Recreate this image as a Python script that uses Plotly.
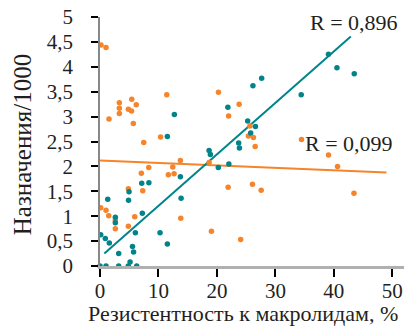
import plotly.graph_objects as go

# Teal series (high correlation)
teal_x = [0, 1.03, 3.2, 4.83, 6.28, 5.14, 3.2, 0.12, 0.91, 1.59, 5.56, 5.74, 6.05, 10.27, 11.52,
          1.32, 2.62, 2.62, 4.88, 4.97, 7.24, 7.14, 8.36, 13.75, 13.87, 11.52, 12.72, 18.66, 18.88,
          20.24, 22.04, 21.87, 23.72, 23.85, 25.26, 25.77, 26.59, 26.16, 27.65, 34.42, 39.08, 40.53, 43.49]
teal_y = [0, 0, 0, 0, 0, 0.08, 0.25, 0.63, 0.55, 0.46, 0.39, 0.28, 0.67, 0.67, 0.44,
          1.34, 0.98, 0.87, 1.32, 1.49, 1.06, 1.66, 1.67, 1.79, 1.36, 2.60, 3.04, 2.32, 2.24,
          1.98, 2.05, 3.19, 2.47, 2.37, 2.91, 2.67, 2.80, 3.62, 3.77, 3.44, 4.25, 3.98, 3.86]

# Orange series (low correlation)
orange_x = [0.17, 1.03, 1.54, 3.31, 3.31, 3.31, 5.43, 4.85, 5.39, 6.2, 5.7, 11.42, 7.48, 10.36,
            8.34, 7.07, 12.45, 11.69, 12.67, 20.26, 23.8, 22.0, 25.65, 25.38, 26.25, 26.54, 13.75,
            18.66, 7.31, 21.92, 26.08, 27.57, 5.94, 13.82, 19.06, 24.06, 34.47, 39.09, 40.63, 43.44,
            4.85, 0.12, 1.03, 1.49, 2.62, 2.62, 4.85]
orange_y = [4.44, 4.39, 2.95, 3.28, 3.17, 3.06, 3.35, 3.15, 3.11, 3.24, 2.86, 3.44, 2.48, 2.59,
            1.98, 1.86, 1.99, 1.83, 1.85, 3.49, 3.25, 3.01, 2.81, 2.61, 2.58, 2.40, 2.12,
            2.08, 1.51, 1.58, 1.64, 1.52, 0.99, 0.96, 0.70, 0.53, 2.54, 2.23, 2.00, 1.46,
            1.55, 1.17, 1.12, 1.01, 0.92, 0.75, 0.80]

# Trend lines
teal_line_x = [0.74, 42.9]
teal_line_y = [0.25, 4.61]
orange_line_x = [0, 49.0]
orange_line_y = [2.12, 1.88]

x_ticks = [0, 10, 20, 30, 40, 50]
y_ticks = [0, 0.5, 1, 1.5, 2, 2.5, 3, 3.5, 4, 4.5, 5]
y_tick_labels = ["0", "0,5", "1", "1,5", "2", "2,5", "3", "3,5", "4", "4,5", "5"]

labels = {"teal": "R = 0,896", "orange": "R = 0,099"}
x_title = "Резистентность к макролидам, %"
y_title = "Назначения/1000"

TEAL = "#00848a"
ORANGE = "#f5842a"
FONT = "Liberation Serif"
TXT = "#231f20"

W, H = 404, 328
L, T, R, B = 100, 17, 0, 62

fig = go.Figure()
fig.add_trace(go.Scatter(x=orange_line_x, y=orange_line_y, mode="lines",
                         line=dict(color=ORANGE, width=2), cliponaxis=False, hoverinfo="skip"))
fig.add_trace(go.Scatter(x=teal_line_x, y=teal_line_y, mode="lines",
                         line=dict(color=TEAL, width=2), cliponaxis=False, hoverinfo="skip"))
fig.add_trace(go.Scatter(x=orange_x, y=orange_y, mode="markers",
                         marker=dict(color=ORANGE, size=5.5), cliponaxis=False))
fig.add_trace(go.Scatter(x=teal_x, y=teal_y, mode="markers",
                         marker=dict(color=TEAL, size=5.5), cliponaxis=False))

fig.add_annotation(x=51.3, y=4.89, text=labels["teal"], showarrow=False, xanchor="right",
                   xref="x", yref="y", font=dict(family=FONT, size=22, color=TXT))
fig.add_annotation(x=50.4, y=2.46, text=labels["orange"], showarrow=False, xanchor="right",
                   xref="x", yref="y", font=dict(family=FONT, size=22, color=TXT))

# axis titles as annotations for precise placement
fig.add_annotation(x=0.47, y=0, xref="paper", yref="paper", yshift=-47, yanchor="middle",
                   text=x_title, showarrow=False, font=dict(family=FONT, size=22, color=TXT))
fig.add_annotation(x=0, y=0.485, xref="paper", yref="paper", xshift=-78, xanchor="center",
                   textangle=-90, text=y_title, showarrow=False,
                   font=dict(family=FONT, size=25, color=TXT))

fig.update_layout(
    width=W, height=H,
    margin=dict(l=L, r=R, t=T, b=B),
    paper_bgcolor="white", plot_bgcolor="white",
    showlegend=False,
    font=dict(family=FONT, size=21, color=TXT),
)
fig.update_xaxes(range=[0, 52], tickvals=x_ticks, ticks="outside", ticklen=8,
                 tickcolor="black", tickwidth=1.5, showline=True, linecolor="#b0b0b0",
                 linewidth=2.5, showgrid=False, zeroline=False, automargin=False,
                 ticklabelstandoff=-4, ticklabeloverflow="allow",
                 tickfont=dict(family=FONT, size=21, color=TXT))
fig.update_yaxes(range=[0, 5], tickvals=y_ticks, ticktext=y_tick_labels, ticks="outside",
                 ticklen=7, tickcolor="black", tickwidth=1.5, showline=True,
                 linecolor="#888888", linewidth=1.5, showgrid=False, zeroline=False,
                 ticklabelstandoff=14, automargin=False, ticklabeloverflow="allow",
                 tickfont=dict(family=FONT, size=21, color=TXT))

fig.write_html("out.html", config={"displayModeBar": False},
               post_script="document.body.style.margin='0';")
